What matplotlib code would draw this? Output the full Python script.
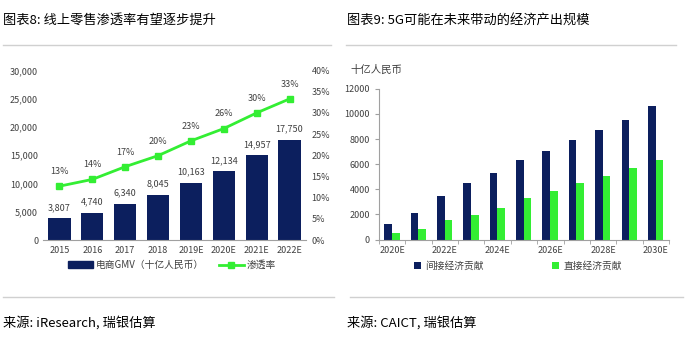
import matplotlib.pyplot as plt
from matplotlib.lines import Line2D
from matplotlib.patches import Patch
import numpy as np

plt.rcParams['font.family'] = ['Noto Sans CJK SC', 'DejaVu Sans']

# chart 8 data
years = ["2015", "2016", "2017", "2018", "2019E", "2020E", "2021E", "2022E"]
gmv = [3807, 4740, 6340, 8045, 10163, 12134, 14957, 17750]
rate = [0.127, 0.143, 0.173, 0.199, 0.234, 0.263, 0.300, 0.333]
rate_labels = ["13%", "14%", "17%", "20%", "23%", "26%", "30%", "33%"]

# chart 9 data
years9 = ["2020E", "2021E", "2022E", "2023E", "2024E", "2025E",
          "2026E", "2027E", "2028E", "2029E", "2030E"]
indirect = [1210, 2100, 3500, 4520, 5300, 6320, 7080, 7940, 8690, 9520, 10600]
direct = [490, 810, 1530, 1990, 2500, 3310, 3900, 4520, 5090, 5700, 6320]

NAVY = "#0c1f5e"
GREEN = "#33ee33"
TXT = "#404040"
W, H = 689, 343

fig = plt.figure(figsize=(W / 100, H / 100), dpi=100)


def px(x0, y0, x1, y1):
    return [x0 / W, 1 - y1 / H, (x1 - x0) / W, (y1 - y0) / H]


# titles, rules and sources
fig.text(3 / W, 1 - 20 / H, "图表8: 线上零售渗透率有望逐步提升", fontsize=9.5,
         va="center", ha="left", color="black")
fig.text(347 / W, 1 - 20 / H, "图表9: 5G可能在未来带动的经济产出规模", fontsize=9.5,
         va="center", ha="left", color="black")
fig.text(3 / W, 1 - 323 / H, "来源: iResearch, 瑞银估算", fontsize=9.5,
         va="center", ha="left", color="black")
fig.text(347 / W, 1 - 323 / H, "来源: CAICT, 瑞银估算", fontsize=9.5,
         va="center", ha="left", color="black")
for xa, xb, yy in [(3, 331, 45), (346, 676, 45), (3, 334, 297), (350, 683, 297)]:
    fig.add_artist(Line2D([xa / W, xb / W], [1 - yy / H, 1 - yy / H],
                          color="#d0d0d0", lw=1))

# chart 8
ax = fig.add_axes(px(43, 70.5, 306, 240))
x = np.arange(len(years))
ax.bar(x, gmv, width=0.68, color=NAVY)
ax.set_xlim(-0.5, len(years) - 0.5)
ax.set_ylim(0, 30000)
ax.set_yticks(range(0, 30001, 5000))
ax.set_yticklabels([f"{v:,}" for v in range(0, 30001, 5000)])
ax.set_xticks(x)
ax.set_xticklabels(years)
for s in ["top", "left", "right"]:
    ax.spines[s].set_visible(False)
ax.spines["bottom"].set_color("#a0a0a0")
ax.tick_params(length=0, labelsize=6.5, colors=TXT)
ax.tick_params(axis="x", pad=4)
for xi, v in zip(x, gmv):
    ax.annotate(f"{v:,}", (xi, v), xytext=(0, 8), textcoords="offset points",
                ha="center", va="center", fontsize=6.5, color=TXT)

ax2 = ax.twinx()
ax2.plot(x, rate, color=GREEN, lw=2, marker="s", markersize=5)
ax2.set_ylim(0, 0.40)
ax2.set_yticks(np.arange(0, 0.41, 0.05))
ax2.set_yticklabels([f"{int(round(v * 100))}%" for v in np.arange(0, 0.41, 0.05)])
for s in ["top", "left", "right", "bottom"]:
    ax2.spines[s].set_visible(False)
ax2.tick_params(length=0, labelsize=6.5, colors=TXT, pad=4)
for xi, v, lab in zip(x, rate, rate_labels):
    ax2.annotate(lab, (xi, v), xytext=(0, 10.5), textcoords="offset points",
                 ha="center", va="center", fontsize=6.5, color=TXT)

handles = [Patch(color=NAVY),
           Line2D([], [], color=GREEN, lw=2, marker="s", markersize=5)]
fig.legend(handles, ["电商GMV（十亿人民币）", "渗透率"], loc="center",
           bbox_to_anchor=(172 / W, 1 - 265 / H), ncol=2, frameon=False,
           fontsize=7, handlelength=2.6, handleheight=0.6, columnspacing=1.5,
           handletextpad=0.3, labelcolor=TXT)

# chart 9
bx = fig.add_axes(px(379, 88.8, 669, 239.5))
x9 = np.arange(len(years9))
bw = 0.29
bx.bar(x9 - bw / 2 - 0.01, indirect, width=bw, color=NAVY, label="间接经济贡献")
bx.bar(x9 + bw / 2 - 0.01, direct, width=bw, color=GREEN, label="直接经济贡献")
bx.set_xlim(-0.5, len(years9) - 0.5)
bx.set_ylim(0, 12000)
bx.set_yticks(range(0, 12001, 2000))
bx.set_xticks(x9[::2])
bx.set_xticklabels(years9[::2])
bx.set_xticks(np.arange(-0.5, len(years9), 1), minor=True)
for s in ["top", "right"]:
    bx.spines[s].set_visible(False)
bx.spines["bottom"].set_color("#a0a0a0")
bx.spines["left"].set_color("#a0a0a0")
bx.tick_params(axis="x", which="major", length=0, labelsize=6.5, colors=TXT, pad=5)
bx.tick_params(axis="x", which="minor", length=3, color="#a0a0a0")
bx.tick_params(axis="y", length=3, color="#a0a0a0", labelsize=6.5, labelcolor=TXT)
fig.text(350 / W, 1 - 70 / H, "十亿人民币", fontsize=7.5, color=TXT,
         ha="left", va="center")
h9, l9 = bx.get_legend_handles_labels()
fig.legend(h9, l9, loc="center", bbox_to_anchor=(518 / W, 1 - 266 / H), ncol=2,
           frameon=False, fontsize=7, handlelength=0.7, handleheight=0.7,
           columnspacing=7, handletextpad=0.5, labelcolor=TXT)

fig.savefig("out.png", dpi=100)
